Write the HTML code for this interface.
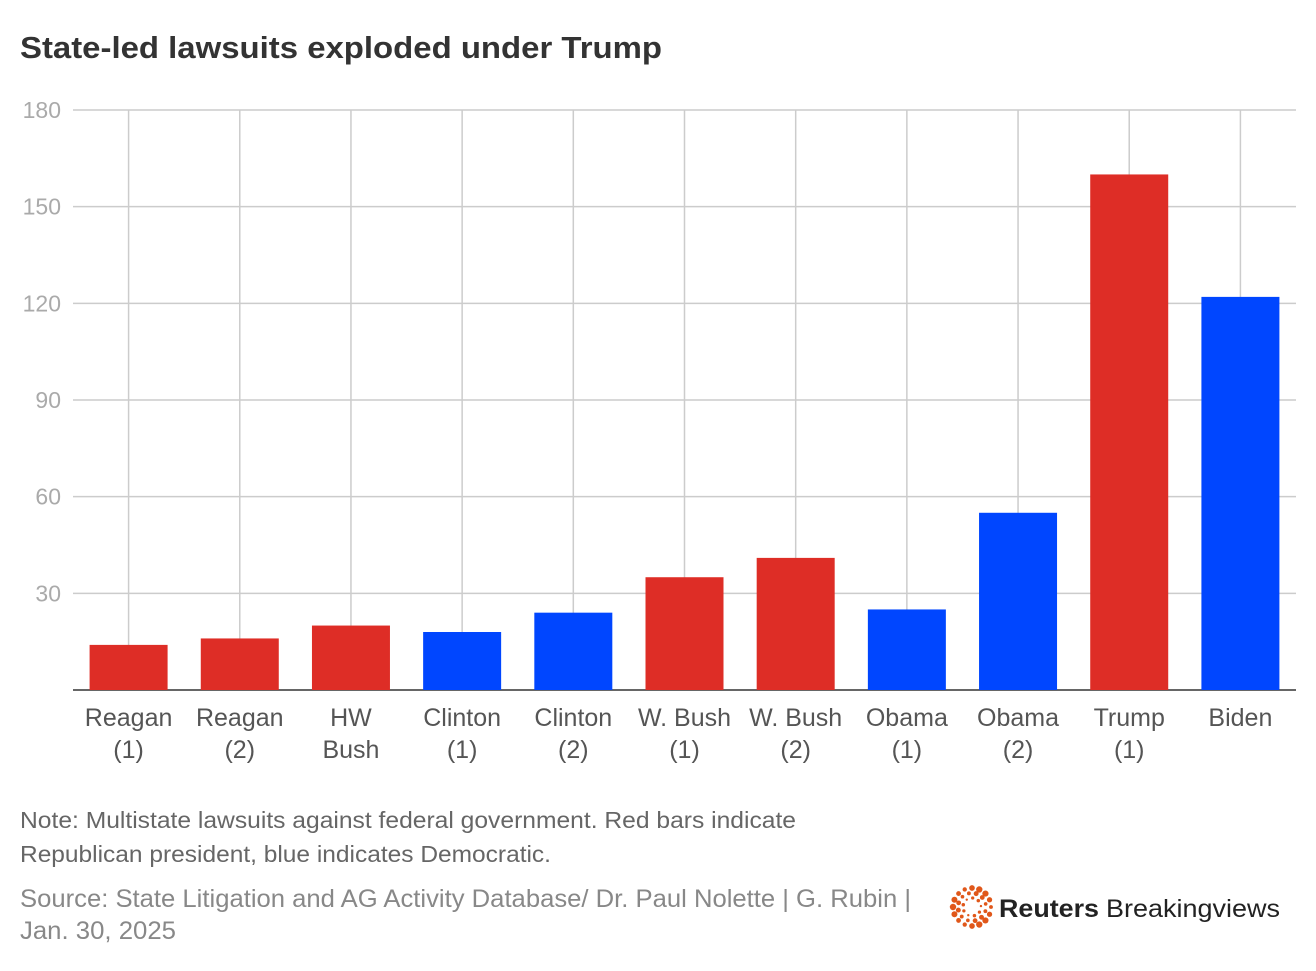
<!DOCTYPE html>
<html><head><meta charset="utf-8"><style>
body{margin:0;background:#fff;font-family:"Liberation Sans",sans-serif}
svg text{font-family:"Liberation Sans",sans-serif}
</style></head><body>
<svg width="1316" height="966" viewBox="0 0 1316 966" xmlns="http://www.w3.org/2000/svg">
<rect width="1316" height="966" fill="#fff"/>
<text x="20" y="58" font-size="31" font-weight="bold" fill="#333" textLength="642" lengthAdjust="spacingAndGlyphs">State-led lawsuits exploded under Trump</text>
<g id="grid"></g><g id="bars"></g><g id="xlabels"></g><g id="ylabels"></g>
<text x="20" y="828" font-size="23" fill="#666" textLength="776" lengthAdjust="spacingAndGlyphs">Note: Multistate lawsuits against federal government. Red bars indicate</text>
<text x="20" y="862" font-size="23" fill="#666" textLength="531" lengthAdjust="spacingAndGlyphs">Republican president, blue indicates Democratic.</text>
<text x="20" y="907" font-size="25" fill="#888" textLength="891" lengthAdjust="spacingAndGlyphs">Source: State Litigation and AG Activity Database/ Dr. Paul Nolette | G. Rubin |</text>
<text x="20" y="939" font-size="25" fill="#888" textLength="156" lengthAdjust="spacingAndGlyphs">Jan. 30, 2025</text>
<g>
<g id="logo-dots" fill="#e0571a"></g>
<text x="999" y="917" font-size="25" fill="#222" font-weight="bold" textLength="100" lengthAdjust="spacingAndGlyphs">Reuters</text>
<text x="1106" y="917" font-size="25" fill="#222" textLength="174" lengthAdjust="spacingAndGlyphs">Breakingviews</text>
</g>
</svg>
<script>
const categories=[["Reagan","(1)"],["Reagan","(2)"],["HW","Bush"],["Clinton","(1)"],["Clinton","(2)"],["W. Bush","(1)"],["W. Bush","(2)"],["Obama","(1)"],["Obama","(2)"],["Trump","(1)"],["Biden"]];
const values=[14,16,20,18,24,35,41,25,55,160,122];
const party=["R","R","R","D","D","R","R","D","D","R","D"];
const yTicks=[0,30,60,90,120,150,180];
const NS="http://www.w3.org/2000/svg";
const x0=73,x1=1296,yTop=110,yBot=690,yMax=180;
const bw=(x1-x0)/categories.length;
const y=v=>yBot-(v/yMax)*(yBot-yTop);
const xc=i=>x0+bw*(i+0.5);
function mk(t,a,p){const e=document.createElementNS(NS,t);for(const k in a)e.setAttribute(k,a[k]);p.appendChild(e);return e;}
const grid=document.getElementById('grid'),bars=document.getElementById('bars'),xl=document.getElementById('xlabels'),yl=document.getElementById('ylabels');
yTicks.forEach(t=>{
 const l=mk('line',{x1:x0,x2:x1,y1:y(t),y2:y(t),stroke:t===0?'#333':'#ccc','stroke-width':1.5},grid);
 
 
 if(t>0){const tx=mk('text',{x:61,y:y(t)+8,'text-anchor':'end','font-size':23,fill:'#aaa'},yl);tx.textContent=t;
 
 }
});
categories.forEach((c,i)=>{
 const v=mk('line',{x1:xc(i),x2:xc(i),y1:yTop,y2:yBot,stroke:'#ccc','stroke-width':1.5},grid);
 
 
 const r=mk('rect',{x:xc(i)-39,width:78,y:y(values[i]),height:yBot-y(values[i]),fill:party[i]==='R'?'#de2d26':'#0046ff'},bars);
 
 
 c.forEach((s,j)=>{const t=mk('text',{x:xc(i),y:726+j*32,'text-anchor':'middle','font-size':25,fill:'#555'},xl);t.textContent=s;
 
 });
});
const ld=document.getElementById('logo-dots');
[[19,3.2],[14,2.5],[9,1.8]].forEach(([r,s],k)=>{const n=k===0?16:(k===1?12:9);for(let i=0;i<n;i++){const a=i/n*2*Math.PI+k*0.3;mk('circle',{cx:972+r*Math.cos(a),cy:907+r*Math.sin(a),r:s*(0.6+0.4*Math.abs(Math.sin(a*1.5)))},ld);}});
</script>
</body></html>
